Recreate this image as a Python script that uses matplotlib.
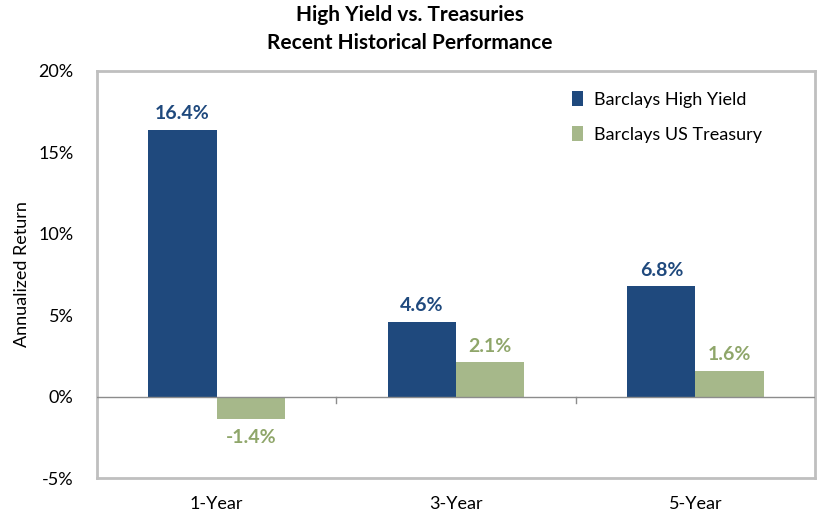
import matplotlib
matplotlib.use("Agg")
import matplotlib.pyplot as plt
import numpy as np
from matplotlib.ticker import FuncFormatter

categories = ["1-Year", "3-Year", "5-Year"]
high_yield = [16.4, 4.6, 6.8]
treasury = [-1.4, 2.1, 1.6]
series_names = ["Barclays High Yield", "Barclays US Treasury"]
title = "High Yield vs. Treasuries\nRecent Historical Performance"
ylabel = "Annualized Return"

navy = "#1F497D"
green = "#A6B88A"
green_txt = "#8FA66A"
plt.rcParams['font.family'] = ['Lato', 'DejaVu Sans']

fig = plt.figure(figsize=(8.17, 5.14), dpi=100)
ax = fig.add_axes([0.1187, 0.070, 0.879, 0.792])

x = np.arange(len(categories))
w = 0.285
b1 = ax.bar(x - w/2, high_yield, w, color=navy, label=series_names[0])
b2 = ax.bar(x + w/2, treasury, w, color=green, label=series_names[1])

for rect, v in zip(b1, high_yield):
    ax.text(rect.get_x() + rect.get_width()/2, v + 0.45, f"{v:.1f}%", ha="center", va="bottom",
            color=navy, fontsize=14, fontweight="bold")
for rect, v in zip(b2, treasury):
    if v >= 0:
        ax.text(rect.get_x() + rect.get_width()/2, v + 0.45, f"{v:.1f}%", ha="center", va="bottom",
                color=green_txt, fontsize=14, fontweight="bold")
    else:
        ax.text(rect.get_x() + rect.get_width()/2, v - 0.6, f"{v:.1f}%", ha="center", va="top",
                color=green_txt, fontsize=14, fontweight="bold")

ax.set_xlim(-0.5, 2.5)
ax.set_ylim(-5, 20)
ax.set_yticks([-5, 0, 5, 10, 15, 20])
ax.yaxis.set_major_formatter(FuncFormatter(lambda v, p: f"{v:.0f}%"))
ax.tick_params(axis="y", length=0, labelsize=13, pad=17)
ax.set_xticks([])
for s in ax.spines.values():
    s.set_color("#BFBFBF")
    s.set_linewidth(2)

# zero axis with category boundary ticks
ax.axhline(0, color="#8C8C8C", linewidth=1, zorder=3)
for bx in [0.5, 1.5]:
    ax.plot([bx, bx], [0, -0.4], color="#8C8C8C", linewidth=1, zorder=3)

for xi, c in zip(x, categories):
    ax.text(xi, -6.1, c, ha="center", va="top", fontsize=13)

ax.set_ylabel(ylabel, fontsize=13, labelpad=6)

leg = ax.legend(loc="upper right", bbox_to_anchor=(0.948, 0.99), frameon=False, fontsize=13,
                handlelength=0.6, handleheight=0.9, handletextpad=0.6, labelspacing=1.0)

fig.text(0.502, 0.99, title, ha="center", va="top", fontsize=15, fontweight="bold",
         linespacing=1.5)

fig.savefig("out.png", dpi=100)
